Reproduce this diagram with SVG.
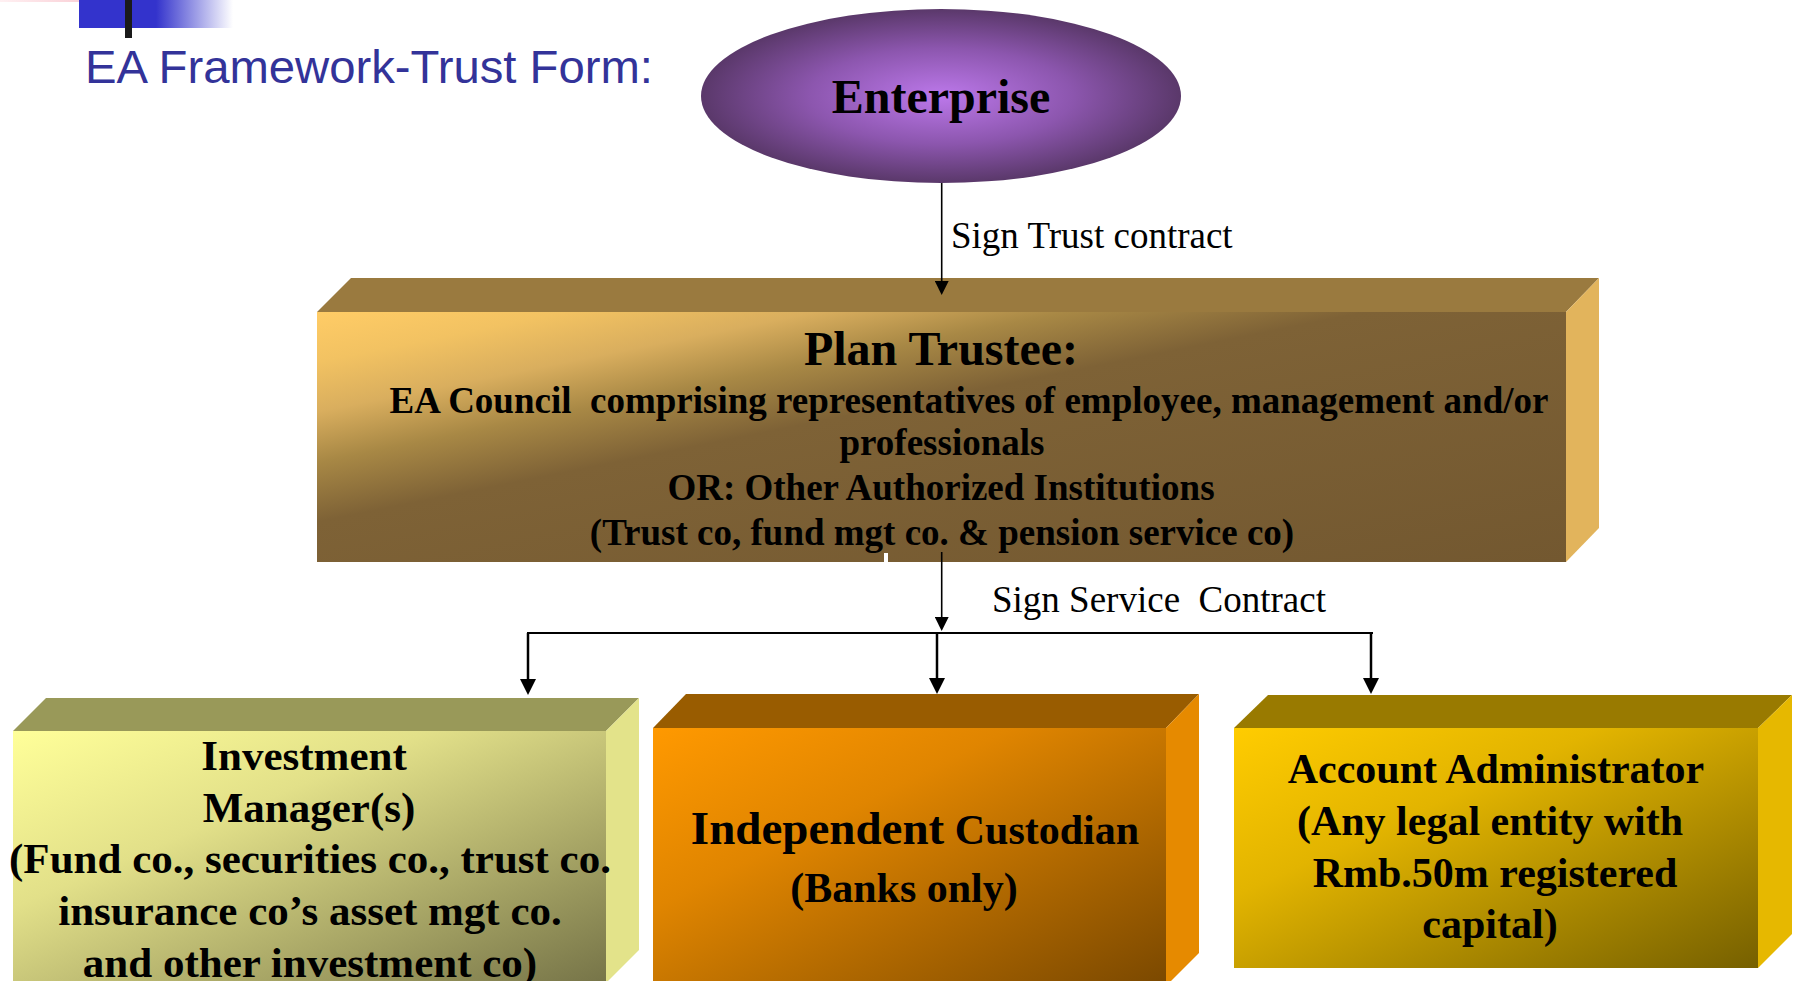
<svg xmlns="http://www.w3.org/2000/svg" width="1799" height="981" viewBox="0 0 1799 981">
  <style>
    .box { font-family: "Liberation Serif", "Times New Roman", serif; font-weight: bold; fill: #000; text-anchor: middle; }
    .lbl { font-family: "Liberation Serif", "Times New Roman", serif; font-size: 37px; fill: #000; }
    .conn { stroke: #000; fill: none; }
  </style>
  <defs>
    <marker id="arr" markerUnits="userSpaceOnUse" viewBox="0 0 16 16" markerWidth="16" markerHeight="16" refX="8" refY="8" orient="auto">
      <path d="M0,0 L16,8 L0,16 Z" fill="#000"/>
    </marker>
    <marker id="arrS" markerUnits="userSpaceOnUse" viewBox="0 0 14 14" markerWidth="14" markerHeight="14" refX="7" refY="7" orient="auto">
      <path d="M0,0 L14,7 L0,14 Z" fill="#000"/>
    </marker>
    <radialGradient id="gEnt" cx="0.5" cy="0.5" r="0.5">
      <stop offset="0" stop-color="#BC78EA"/>
      <stop offset="0.55" stop-color="#8C56AE"/>
      <stop offset="1" stop-color="#5A386A"/>
    </radialGradient>
    <linearGradient id="gPT" x1="0" y1="0" x2="1" y2="1">
      <stop offset="0" stop-color="#FFCC66"/>
      <stop offset="0.1" stop-color="#F2C262"/>
      <stop offset="0.2" stop-color="#D9AE5E"/>
      <stop offset="0.3" stop-color="#A88845"/>
      <stop offset="0.42" stop-color="#7E6236"/>
      <stop offset="1" stop-color="#735830"/>
    </linearGradient>
    <linearGradient id="gIM" x1="0" y1="0" x2="1" y2="1">
      <stop offset="0" stop-color="#FFFF99"/>
      <stop offset="0.35" stop-color="#E2E089"/>
      <stop offset="1" stop-color="#767448"/>
    </linearGradient>
    <linearGradient id="gIC" x1="0" y1="0" x2="1" y2="1">
      <stop offset="0" stop-color="#FF9900"/>
      <stop offset="0.35" stop-color="#E08500"/>
      <stop offset="1" stop-color="#7A4800"/>
    </linearGradient>
    <linearGradient id="gAA" x1="0" y1="0" x2="1" y2="1">
      <stop offset="0" stop-color="#FFCC00"/>
      <stop offset="0.35" stop-color="#E2B400"/>
      <stop offset="1" stop-color="#766000"/>
    </linearGradient>
    <linearGradient id="gBlue" x1="0" y1="0" x2="1" y2="0">
      <stop offset="0" stop-color="#3333CC"/>
      <stop offset="0.5" stop-color="#3333CC"/>
      <stop offset="1" stop-color="#FFFFFF"/>
    </linearGradient>
    <linearGradient id="gPink" x1="0" y1="0" x2="1" y2="0">
      <stop offset="0" stop-color="#FFF0F2"/>
      <stop offset="1" stop-color="#F8C6CE"/>
    </linearGradient>
  </defs>

  <g id="header">
    <rect x="0" y="0" width="110" height="2" fill="url(#gPink)"/>
    <rect x="79" y="0" width="154" height="28" fill="url(#gBlue)"/>
    <rect x="125" y="0" width="7" height="38" fill="#1A1A1A"/>
    <text x="85" y="83" font-family="'Liberation Sans', Arial, sans-serif" font-size="47" fill="#333399" textLength="568" lengthAdjust="spacingAndGlyphs">EA Framework-Trust Form:</text>
  </g>

  <g id="enterprise">
    <ellipse cx="941" cy="96" rx="240" ry="87" fill="url(#gEnt)"/>
    <text class="box" x="941" y="113" font-size="48">Enterprise</text>
  </g>

  <g id="plan-trustee">
    <polygon points="317,312 351,278 1599,278 1566,312" fill="#9A7A3F"/>
    <polygon points="1566,312 1599,278 1599,528 1566,562" fill="#E2B45C"/>
    <rect x="317" y="312" width="1249" height="250" fill="url(#gPT)"/>
    <rect x="884" y="553" width="4" height="9" fill="#FFFFFF"/>
    <text class="box" x="941" y="365" font-size="48">Plan Trustee:</text>
    <text class="box" x="969" y="413" font-size="37" xml:space="preserve">EA Council  comprising representatives of employee, management and/or</text>
    <text class="box" x="942" y="455" font-size="37">professionals</text>
    <text class="box" x="941" y="500" font-size="37">OR: Other Authorized Institutions</text>
    <text class="box" x="942" y="545" font-size="37">(Trust co, fund mgt co. &amp; pension service co)</text>
  </g>

  <g id="investment-manager">
    <polygon points="13,731 46,698 639,698 606,731" fill="#999959"/>
    <polygon points="606,731 639,698 639,950 606,983" fill="#E3E38A"/>
    <rect x="13" y="731" width="593" height="252" fill="url(#gIM)"/>
    <text class="box" x="304" y="770" font-size="43">Investment</text>
    <text class="box" x="309" y="822" font-size="43">Manager(s)</text>
    <text class="box" x="310" y="873" font-size="43">(Fund co., securities co., trust co.</text>
    <text class="box" x="310" y="925" font-size="43">insurance co’s asset mgt co.</text>
    <text class="box" x="310" y="977" font-size="43">and other investment co)</text>
  </g>

  <g id="independent-custodian">
    <polygon points="653,728 686,694 1199,694 1166,728" fill="#995C00"/>
    <polygon points="1166,728 1199,694 1199,953 1166,986" fill="#E68A00"/>
    <rect x="653" y="728" width="513" height="258" fill="url(#gIC)"/>
    <text class="box" x="915" y="844"><tspan font-size="47">Independent</tspan><tspan font-size="42"> Custodian</tspan></text>
    <text class="box" x="904" y="902" font-size="42">(Banks only)</text>
  </g>

  <g id="account-administrator">
    <polygon points="1234,728 1268,695 1792,695 1758,728" fill="#997A00"/>
    <polygon points="1758,728 1792,695 1792,934 1758,968" fill="#E6B800"/>
    <rect x="1234" y="728" width="524" height="240" fill="url(#gAA)"/>
    <text class="box" x="1496" y="783" font-size="42">Account Administrator</text>
    <text class="box" x="1490" y="835" font-size="42">(Any legal entity with</text>
    <text class="box" x="1495" y="887" font-size="42">Rmb.50m registered</text>
    <text class="box" x="1490" y="938" font-size="42">capital)</text>
  </g>

  <g id="connectors">
    <path class="conn" d="M941.7,183 V288" stroke-width="1.6" marker-end="url(#arrS)"/>
    <path class="conn" d="M941.7,552 V624" stroke-width="1.6" marker-end="url(#arrS)"/>
    <path class="conn" d="M527,633 H1373" stroke-width="2.2"/>
    <path class="conn" d="M528,633 V687" stroke-width="2.5" marker-end="url(#arr)"/>
    <path class="conn" d="M937,633 V686" stroke-width="2.5" marker-end="url(#arr)"/>
    <path class="conn" d="M1371,633 V686" stroke-width="2.5" marker-end="url(#arr)"/>
    <text class="lbl" x="951" y="248">Sign Trust contract</text>
    <text class="lbl" x="992" y="612" xml:space="preserve">Sign Service  Contract</text>
  </g>
</svg>
